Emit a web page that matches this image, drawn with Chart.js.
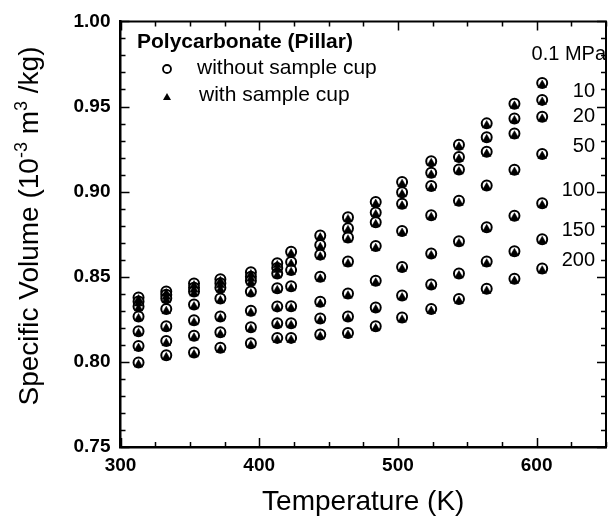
<!DOCTYPE html>
<html lang="en">
<head>
    <meta charset="UTF-8">
    <title>Polycarbonate (Pillar) - Specific Volume</title>
    <script src="https://cdn.jsdelivr.net/npm/chart.js"></script>
    <style>
        body { margin: 0; background: #fff; }
        #grafico { display: block; }
    </style>
</head>
<body>
    <canvas id="grafico" width="613" height="525"></canvas>

    <script>
        const fonte = "'Liberation Sans', Arial, Helvetica, sans-serif";

        // temperatures (K) of the isotherms
        const temperaturas = [313, 333, 353, 372, 394, 413, 423, 444, 464, 484, 503, 524, 544, 564, 584, 604];
        const rotulosPressao = ['0.1 MPa', '10', '20', '50', '100', '150', '200'];

        // specific volume (10^-3 m3/kg), without sample cup (open circles)
        const semCopo_01  = [0.8378, 0.8413, 0.8461, 0.8486, 0.8526, 0.8579, 0.8647, 0.8742, 0.8849, 0.8939, 0.9056, 0.9179, 0.9275, 0.9401, 0.9516, 0.9638];
        const semCopo_10  = [0.8355, 0.8394, 0.8436, 0.8462, 0.8500, 0.8552, 0.8587, 0.8686, 0.8785, 0.8878, 0.8996, 0.9111, 0.9204, 0.9320, 0.9430, 0.9539];
        const semCopo_20  = [0.8326, 0.8374, 0.8413, 0.8436, 0.8477, 0.8519, 0.8539, 0.8630, 0.8730, 0.8820, 0.8929, 0.9033, 0.9130, 0.9234, 0.9341, 0.9440];
        const semCopo_50  = [0.8267, 0.8310, 0.8337, 0.8372, 0.8413, 0.8433, 0.8444, 0.8500, 0.8589, 0.8680, 0.8769, 0.8862, 0.8946, 0.9036, 0.9128, 0.9221];
        const semCopo_100 = [0.8180, 0.8209, 0.8244, 0.8267, 0.8301, 0.8326, 0.8327, 0.8353, 0.8401, 0.8477, 0.8558, 0.8637, 0.8708, 0.8791, 0.8859, 0.8932];
        const semCopo_150 = [0.8093, 0.8122, 0.8154, 0.8174, 0.8204, 0.8227, 0.8227, 0.8255, 0.8267, 0.8320, 0.8390, 0.8455, 0.8519, 0.8589, 0.8650, 0.8721];
        const semCopo_200 = [0.7996, 0.8039, 0.8055, 0.8083, 0.8110, 0.8141, 0.8141, 0.8161, 0.8170, 0.8209, 0.8260, 0.8311, 0.8369, 0.8429, 0.8488, 0.8548];

        // with sample cup (filled triangles)
        const comCopo_01  = [0.8366, 0.8401, 0.8449, 0.8474, 0.8514, 0.8567, 0.8635, 0.8730, 0.8837, 0.8927, 0.9044, 0.9167, 0.9263, 0.9389, 0.9504, 0.9626];
        const comCopo_10  = [0.8343, 0.8382, 0.8424, 0.8450, 0.8488, 0.8540, 0.8575, 0.8674, 0.8773, 0.8866, 0.8984, 0.9099, 0.9192, 0.9308, 0.9418, 0.9527];
        const comCopo_20  = [0.8314, 0.8362, 0.8401, 0.8424, 0.8465, 0.8507, 0.8527, 0.8618, 0.8718, 0.8808, 0.8917, 0.9021, 0.9118, 0.9222, 0.9329, 0.9428];
        const comCopo_50  = [0.8255, 0.8298, 0.8325, 0.8360, 0.8401, 0.8421, 0.8432, 0.8488, 0.8577, 0.8668, 0.8757, 0.8850, 0.8934, 0.9024, 0.9116, 0.9209];
        const comCopo_100 = [0.8168, 0.8197, 0.8232, 0.8255, 0.8289, 0.8314, 0.8315, 0.8341, 0.8389, 0.8465, 0.8546, 0.8625, 0.8696, 0.8779, 0.8847, 0.8920];
        const comCopo_150 = [0.8081, 0.8110, 0.8142, 0.8162, 0.8192, 0.8215, 0.8215, 0.8243, 0.8255, 0.8308, 0.8378, 0.8443, 0.8507, 0.8577, 0.8638, 0.8709];
        const comCopo_200 = [0.7984, 0.8027, 0.8043, 0.8071, 0.8098, 0.8129, 0.8129, 0.8149, 0.8158, 0.8197, 0.8248, 0.8299, 0.8357, 0.8417, 0.8476, 0.8536];

        // pressure label positions (y in data units, next to the 604 K column)
        const posRotulos = [0.9808, 0.9587, 0.9439, 0.9265, 0.9009, 0.8770, 0.8596];

        const semCopo = [semCopo_01, semCopo_10, semCopo_20, semCopo_50, semCopo_100, semCopo_150, semCopo_200];
        const comCopo = [comCopo_01, comCopo_10, comCopo_20, comCopo_50, comCopo_100, comCopo_150, comCopo_200];

        function pontos(series) {
            const lista = [];
            series.forEach(s => s.forEach((v, i) => lista.push({ x: temperaturas[i], y: v })));
            return lista;
        }

        // inward ticks, top/right frame, legend and labels
        const moldura = {
            id: 'moldura',
            afterDraw(chart) {
                const ctx = chart.ctx;
                const a = chart.chartArea;
                const xs = chart.scales.x, ys = chart.scales.y;
                ctx.save();
                ctx.strokeStyle = '#000';
                ctx.lineWidth = 2;
                ctx.beginPath();
                ctx.moveTo(a.left, a.top); ctx.lineTo(a.right, a.top); ctx.lineTo(a.right, a.bottom);
                ctx.stroke();

                ctx.lineWidth = 1.5;
                ctx.beginPath();
                for (let t = 300; t <= 650; t += 25) {
                    const px = Math.round(xs.getPixelForValue(t)) + 0.5;
                    const len = t % 100 === 0 ? 9 : 5;
                    ctx.moveTo(px, a.bottom); ctx.lineTo(px, a.bottom - len);
                    ctx.moveTo(px, a.top); ctx.lineTo(px, a.top + len);
                }
                for (let k = 75; k <= 100; k++) {
                    const py = Math.round(ys.getPixelForValue(k / 100)) + 0.5;
                    const len = k % 5 === 0 ? 9 : 5;
                    ctx.moveTo(a.left, py); ctx.lineTo(a.left + len, py);
                    ctx.moveTo(a.right, py); ctx.lineTo(a.right - len, py);
                }
                ctx.stroke();

                // legend
                ctx.fillStyle = '#000';
                ctx.textBaseline = 'middle';
                ctx.textAlign = 'left';
                ctx.font = 'bold 21px ' + fonte;
                ctx.fillText('Polycarbonate (Pillar)', 137, 42);
                ctx.font = '21px ' + fonte;
                ctx.fillText('without sample cup', 197, 68);
                ctx.fillText('with sample cup', 199, 95);
                ctx.lineWidth = 1.8;
                ctx.beginPath();
                ctx.arc(167, 69, 4, 0, Math.PI * 2);
                ctx.stroke();
                ctx.beginPath();
                ctx.moveTo(167, 93); ctx.lineTo(171, 100); ctx.lineTo(163, 100);
                ctx.closePath();
                ctx.fill();

                // pressure labels
                ctx.textAlign = 'right';
                ctx.font = '20px ' + fonte;
                rotulosPressao.forEach((r, i) => {
                    ctx.fillText(r, i === 0 ? 606 : 595, ys.getPixelForValue(posRotulos[i]));
                });

                // axis titles
                ctx.textAlign = 'center';
                ctx.textBaseline = 'alphabetic';
                ctx.font = '28px ' + fonte;
                ctx.fillText('Temperature (K)', (a.left + a.right) / 2, 510);

                ctx.translate(38, 226);
                ctx.rotate(-Math.PI / 2);
                const partes = [
                    ['Specific Volume (10', false], ['-3', true], [' m', false], ['3', true], [' /kg)', false]
                ];
                let total = 0;
                partes.forEach(p => {
                    ctx.font = (p[1] ? '18px ' : '28px ') + fonte;
                    total += ctx.measureText(p[0]).width;
                });
                let cx = -total / 2;
                ctx.textAlign = 'left';
                partes.forEach(p => {
                    ctx.font = (p[1] ? '18px ' : '28px ') + fonte;
                    ctx.fillText(p[0], cx, p[1] ? -11 : 0);
                    cx += ctx.measureText(p[0]).width;
                });
                ctx.restore();
            }
        };

        const grafico = new Chart(document.getElementById('grafico').getContext('2d'), {
            type: 'scatter',
            data: {
                datasets: [
                    {
                        label: 'with sample cup',
                        data: pontos(comCopo),
                        pointStyle: 'triangle',
                        pointRadius: 5,
                        backgroundColor: '#000',
                        borderColor: '#000',
                        borderWidth: 0.5,
                        order: 0
                    },
                    {
                        label: 'without sample cup',
                        data: pontos(semCopo),
                        pointStyle: 'circle',
                        pointRadius: 5,
                        backgroundColor: '#fff',
                        borderColor: '#000',
                        borderWidth: 2,
                        order: 1
                    }
                ]
            },
            options: {
                responsive: false,
                animation: false,
                devicePixelRatio: 1,
                layout: { padding: { top: 17, right: 1, left: 0, bottom: 0 } },
                plugins: { legend: { display: false }, tooltip: { enabled: false } },
                scales: {
                    x: {
                        type: 'linear',
                        min: 300,
                        max: 650,
                        afterFit: s => { s.height = 78; },
                        grid: { display: false, drawTicks: false },
                        border: { display: true, color: '#000', width: 2.5 },
                        ticks: {
                            stepSize: 100,
                            includeBounds: false,
                            padding: 7,
                            maxRotation: 0,
                            color: '#000',
                            font: { family: fonte, size: 19, weight: 'bold' }
                        }
                    },
                    y: {
                        type: 'linear',
                        min: 0.75,
                        max: 1.0,
                        afterFit: s => { s.width = 120.5; },
                        grid: { display: false, drawTicks: false },
                        border: { display: true, color: '#000', width: 2.5 },
                        ticks: {
                            stepSize: 0.05,
                            padding: 10,
                            color: '#000',
                            font: { family: fonte, size: 19, weight: 'bold' },
                            callback: v => v.toFixed(2)
                        }
                    }
                }
            },
            plugins: [moldura]
        });
    </script>
</body>
</html>
